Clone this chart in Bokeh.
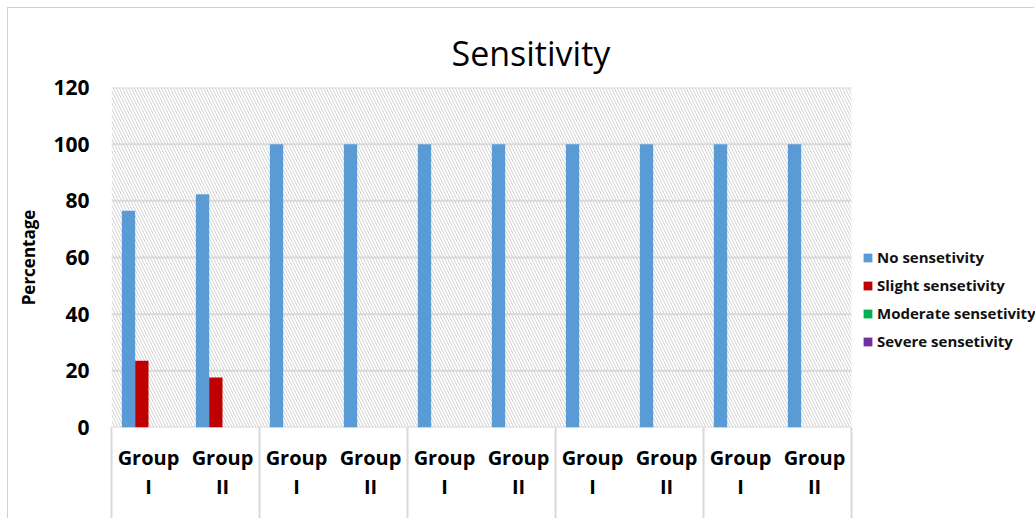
import numpy as np
from bokeh.plotting import figure
from bokeh.models import (Range1d, LinearAxis, FixedTicker,
                          BoxAnnotation, Legend, LegendItem)
from bokeh.embed import file_html
from bokeh.resources import INLINE

# ---- data ----
categories = ["Group I", "Group II", "Group I", "Group II", "Group I",
              "Group II", "Group I", "Group II", "Group I", "Group II"]
no_sensitivity = [76.47, 82.35, 100, 100, 100, 100, 100, 100, 100, 100]
slight_sensitivity = [23.53, 17.65, 0, 0, 0, 0, 0, 0, 0, 0]
moderate_sensitivity = [0, 0, 0, 0, 0, 0, 0, 0, 0, 0]
severe_sensitivity = [0, 0, 0, 0, 0, 0, 0, 0, 0, 0]
series_names = ["No sensetivity", "Slight sensetivity",
                "Moderate sensetivity", "Severe sensetivity"]
series_colors = ["#5B9BD5", "#C00000", "#00B050", "#7030A0"]
y_ticks = [0, 20, 40, 60, 80, 100, 120]
title_text = "Sensitivity"
y_label = "Percentage"

FONT = "Open Sans"
GRID = "#d9d9d9"

# layout: the frame spans the plot area plus the legend strip to its right
FRAME_W = 924      # px, whole frame
AREA_W = 740       # px, hatched plot area
n = len(categories)
centers = np.arange(n) + 0.5

p = figure(width=1027, height=511,
           x_range=Range1d(0, n * FRAME_W / AREA_W),
           y_range=Range1d(y_ticks[0], y_ticks[-1]),
           output_backend="svg", toolbar_location=None,
           x_axis_location=None,
           min_border_left=103, min_border_right=0,
           min_border_top=79, min_border_bottom=92)
p.styles = {"margin-left": "7px", "margin-top": "7px",
            "border-left": "1px solid #d0d0d0", "border-top": "1px solid #d0d0d0"}
p.outline_line_color = None
p.background_fill_color = "white"
p.border_fill_color = "white"

# hatched plot area
p.add_layout(BoxAnnotation(left=0, right=n, bottom=y_ticks[0], top=y_ticks[-1],
                           fill_alpha=0, fill_color=None, line_color=None,
                           hatch_pattern="\\", hatch_color="#d2d2d2",
                           hatch_scale=6, hatch_weight=1, level="underlay"))

# horizontal gridlines across the plot area only
p.segment(x0=[0] * len(y_ticks), x1=[n] * len(y_ticks), y0=y_ticks, y1=y_ticks,
          line_color=GRID, line_width=2)

# y axis
ya = p.yaxis[0]
ya.ticker = FixedTicker(ticks=y_ticks)
ya.axis_line_color = None
ya.major_tick_line_color = None
ya.minor_tick_line_color = None
ya.major_tick_out = 0
ya.major_tick_in = 0
ya.major_label_standoff = 22
ya.major_label_text_font = FONT
ya.major_label_text_font_style = "bold"
ya.major_label_text_font_size = "21px"
ya.major_label_text_color = "black"
ya.axis_label = y_label
ya.axis_label_text_font = FONT
ya.axis_label_text_font_style = "bold"
ya.axis_label_text_font_size = "17px"
ya.axis_label_standoff = 10
ya.axis_label_text_color = "black"

p.ygrid.visible = False
p.xgrid.visible = False

# separator lines below the axis (group boundaries)
sep_ticks = list(range(0, n + 1, 2))
sep = LinearAxis(ticker=FixedTicker(ticks=sep_ticks),
                 axis_line_color=None, major_tick_in=-92, major_tick_out=0,
                 major_tick_line_color=GRID, major_tick_line_width=2,
                 minor_tick_line_color=None,
                 major_label_overrides={t: "" for t in sep_ticks},
                 major_label_standoff=0)

# category labels axis
xa = LinearAxis(ticker=FixedTicker(ticks=[float(c) for c in centers]),
                axis_line_color=None, major_tick_line_color=None,
                minor_tick_line_color=None, major_tick_out=0, major_tick_in=0,
                major_label_standoff=16, major_label_text_font=FONT,
                major_label_text_font_style="bold", major_label_text_font_size="20px",
                major_label_text_line_height=1.1, major_label_text_color="black",
                major_label_overrides={float(c): lab.replace(" ", "\n")
                                       for c, lab in zip(centers, categories)})
p.add_layout(sep, "below")
p.add_layout(xa, "below")

# bars
offsets = [-0.27, -0.09, 0.09, 0.27]
series_values = [no_sensitivity, slight_sensitivity, moderate_sensitivity, severe_sensitivity]
rs = []
for vals, off, color in zip(series_values, offsets, series_colors):
    r = p.vbar(x=centers + off, top=vals, width=0.18,
               fill_color=color, line_color=None)
    rs.append(r)

legend = Legend(items=[LegendItem(label=nm, renderers=[r]) for nm, r in zip(series_names, rs)],
                location=(751, 72), orientation="vertical",
                border_line_color=None, background_fill_alpha=0,
                padding=0, margin=0, spacing=0, label_height=28,
                glyph_width=11, glyph_height=11, label_standoff=4,
                label_text_font=FONT, label_text_font_size="15px",
                label_text_font_style="bold", label_text_color="#111111")
p.add_layout(legend)

# title
p.title.text = title_text
p.title.align = "left"
p.title.offset = 340
p.title.text_font = FONT
p.title.text_font_style = "normal"
p.title.text_font_size = "34px"
p.title.text_color = "black"
p.title.standoff = 24

open("out.html", "w").write(file_html(p, INLINE))
